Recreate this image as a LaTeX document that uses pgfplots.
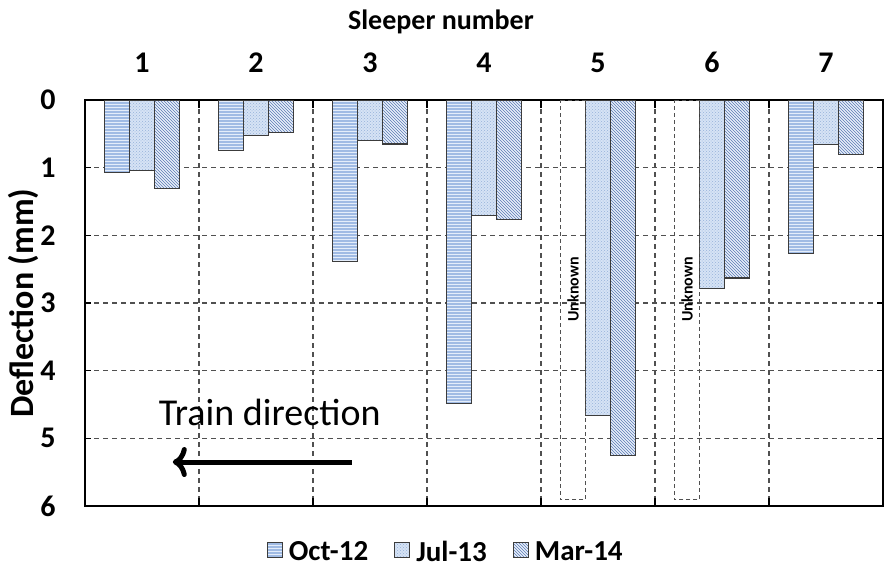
\documentclass[border=0pt]{standalone}
\usepackage{pgfplots}
\pgfplotsset{compat=1.18}
\usepackage{fontspec}
\setmainfont{Carlito}
\usetikzlibrary{patterns,arrows.meta}

\definecolor{octfill}{RGB}{160,187,228}
\definecolor{octline}{RGB}{228,237,250}
\definecolor{julfill}{RGB}{214,227,245}
\definecolor{julline}{RGB}{150,178,218}
\definecolor{marfill}{RGB}{232,239,250}
\definecolor{marline}{RGB}{90,122,180}
\definecolor{edgec}{RGB}{60,60,60}
\definecolor{gridc}{RGB}{80,80,80}

\pgfplotsset{boxlegend/.style={legend image code/.code={%
  \draw[##1] (0pt,-6pt) rectangle (15pt,9pt);}}}

\begin{document}
\begin{tikzpicture}
\begin{axis}[name=ax,
  scale only axis, width=798pt, height=406pt,
  xmin=0.5, xmax=7.5, ymin=0, ymax=6, y dir=reverse,
  xtick={1,...,7}, xticklabel pos=upper,
  major x tick style={draw=none},
  minor xtick={1.5,2.5,...,6.5}, xminorgrids,
  minor x tick style={black, line width=1.5pt},
  ytick={0,...,6}, ymajorgrids,
  grid style={dash pattern=on 5pt off 4pt, gridc, line width=1.1pt},
  tick align=inside, major tick length=6pt, minor tick length=8pt,
  ytick style={black, line width=1.2pt},
  axis line style={line width=1.6pt},
  /pgf/number format/assume math mode=true,
  ticklabel style={font=\fontsize{30}{32}\selectfont\bfseries},
  xticklabel style={yshift=24pt},
  yticklabel style={xshift=-26pt},
  xlabel={Sleeper number},
  ylabel={Deflection (mm)},
  xlabel style={font=\fontsize{28}{30}\selectfont\bfseries,
    at={(axis description cs:0.446,1.192)}, anchor=center},
  ylabel style={font=\fontsize{34}{36}\selectfont\bfseries,
    at={(axis description cs:-0.0777,0.5)}, anchor=center},
  legend columns=3,
  legend style={draw=none, at={(0.452,-0.075)}, anchor=north,
    font=\fontsize{29}{32}\selectfont\bfseries,
    /tikz/every even column/.append style={column sep=24pt}},
]
\addplot[ybar, forget plot, bar width=25pt, bar shift=-25pt, draw=edgec, line width=1.1pt,
  fill=octfill, postaction={pattern=horizontal lines, pattern color=octline}]
  coordinates {(1,1.07) (2,0.75) (3,2.39) (4,4.48) (7,2.27)};
\addplot[ybar, forget plot, bar width=25pt, bar shift=0pt, draw=edgec, line width=1.1pt,
  fill=julfill, postaction={pattern=crosshatch dots, pattern color=julline}]
  coordinates {(1,1.04) (2,0.52) (3,0.60) (4,1.71) (5,4.66) (6,2.79) (7,0.66)};
\addplot[ybar, forget plot, bar width=25pt, bar shift=25pt, draw=edgec, line width=1.1pt,
  fill=marfill, postaction={pattern=north west lines, pattern color=marline}]
  coordinates {(1,1.31) (2,0.48) (3,0.65) (4,1.76) (5,5.26) (6,2.63) (7,0.80)};
\addplot[ybar, bar width=25pt, bar shift=-25pt, draw=gridc, line width=1.0pt,
  dash pattern=on 4pt off 3pt, fill=none, forget plot]
  coordinates {(5,5.91) (6,5.91)};
\addlegendimage{boxlegend, draw=edgec, line width=1.1pt, fill=octfill,
  postaction={pattern=horizontal lines, pattern color=octline}}
\addlegendentry{\hspace{4pt}Oct-12}
\addlegendimage{boxlegend, draw=edgec, line width=1.1pt, fill=julfill,
  postaction={pattern=crosshatch dots, pattern color=julline}}
\addlegendentry{\hspace{4pt}Jul-13}
\addlegendimage{boxlegend, draw=edgec, line width=1.1pt, fill=marfill,
  postaction={pattern=north west lines, pattern color=marline}}
\addlegendentry{\hspace{4pt}Mar-14}
\node[xshift=-25pt, rotate=90, font=\fontsize{16}{18}\selectfont\bfseries] at (axis cs:5,2.8) {Unknown};
\node[xshift=-25pt, rotate=90, font=\fontsize{16}{18}\selectfont\bfseries] at (axis cs:6,2.8) {Unknown};
\node[font=\fontsize{38}{42}\selectfont] at (axis cs:2.12,4.62) {Train direction};
\draw[line width=5pt, -{To[length=14pt,width=30pt]}] (axis cs:2.84,5.35) -- (axis cs:1.27,5.35);
\end{axis}
\pgfresetboundingbox
\path ([xshift=-85pt,yshift=-64pt]ax.south west) rectangle ([xshift=2pt,yshift=100pt]ax.north east);
\end{tikzpicture}
\end{document}
